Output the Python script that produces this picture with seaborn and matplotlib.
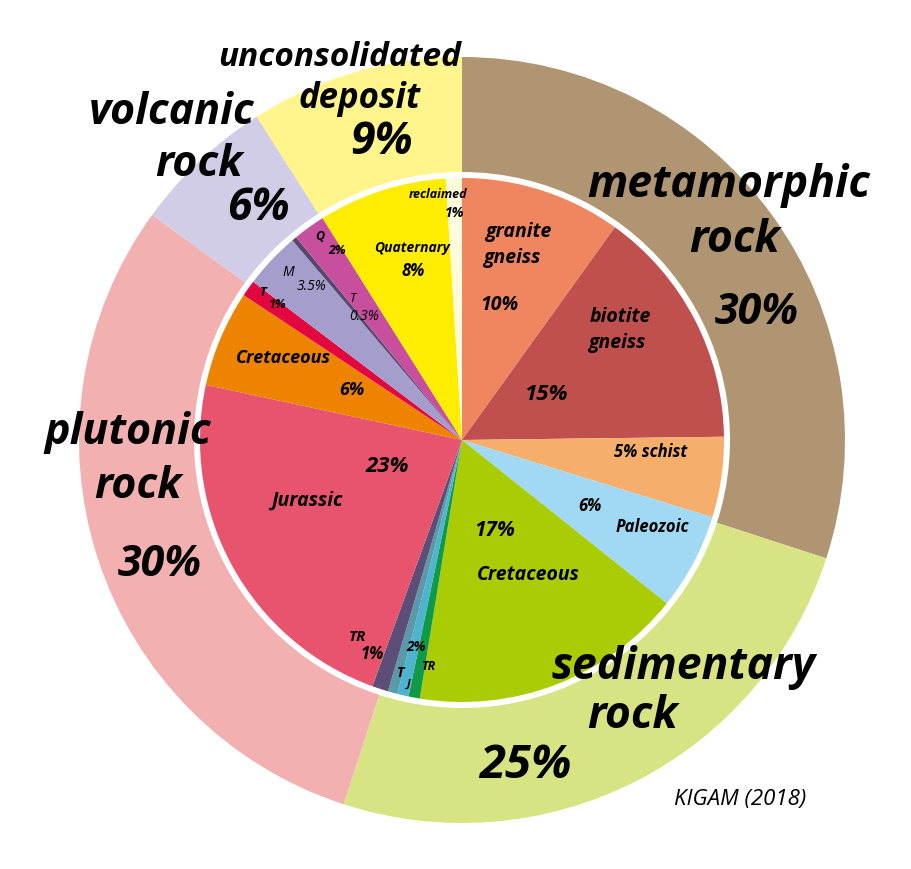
import matplotlib
matplotlib.use("Agg")
import matplotlib.pyplot as plt
import seaborn as sns

# outer ring: rock groups (percent)
outer_labels = ["metamorphic rock", "sedimentary rock", "plutonic rock", "volcanic rock", "unconsolidated deposit"]
outer_values = [30, 25, 30, 6, 9]
outer_colors = ["#B09572", "#D8E483", "#F2B0B0", "#D1CDE6", "#FFF58C"]

# inner pie: units (percent), clockwise from 12 o'clock
inner_labels = ["granite gneiss", "biotite gneiss", "schist", "Paleozoic", "Cretaceous",
                "TR", "J", "T", "TR", "Jurassic", "Cretaceous",
                "T", "M", "T", "Q", "Quaternary", "reclaimed"]
inner_values = [10, 15, 5, 6, 17,
                0.7, 0.7, 0.6, 1, 23, 6,
                1, 3.5, 0.3, 2, 8, 1]
inner_colors = ["#EF865F", "#C0504D", "#F5AE6B", "#A1D8F3", "#AACC05",
                "#109A48", "#4DB3CF", "#5A9AA8", "#5B4F78", "#E8536E", "#EE8300",
                "#E2073F", "#A59DCB", "#54486E", "#C84E9E", "#FFED00", "#FFFBDD"]

W, H = 911, 869
CX, CY = 462, 440          # pie centre in pixels
R_OUT, R_IN = 383, 262

sns.set_theme(style="white")
plt.rcParams["font.family"] = ["Open Sans", "DejaVu Sans"]

fig = plt.figure(figsize=(W / 100, H / 100), dpi=100)
ax = fig.add_axes([0, 0, 1, 1])

ax.pie(outer_values, colors=outer_colors, radius=R_OUT, startangle=90, counterclock=False,
       wedgeprops=dict(width=R_OUT - R_IN - 6, linewidth=0))
ax.pie(inner_values, colors=inner_colors, radius=R_IN, startangle=90, counterclock=False,
       wedgeprops=dict(linewidth=0))

ax.set_xlim(-CX, W - CX)
ax.set_ylim(CY - H, CY)
ax.set_aspect("auto")
ax.axis("off")


def put(x, y, s, size, weight="bold", style="italic", family=None, **kw):
    ax.text(x - CX, CY - y, s, fontsize=size, fontweight=weight, fontstyle=style,
            ha="center", va="center", color="black",
            family=family or ["Open Sans", "DejaVu Sans"], **kw)


# outer labels
put(729, 186, "metamorphic", 32)
put(735, 240, "rock", 32)
put(757, 312, "30%", 31)
put(684, 668, "sedimentary", 32)
put(633, 716, "rock", 32)
put(525, 765, "25%", 34)
put(128, 432, "plutonic", 31)
put(138, 486, "rock", 31)
put(160, 565, "30%", 31)
put(172, 112, "volcanic", 31)
put(199, 165, "rock", 31)
put(258, 208, "6%", 32)
put(340, 58, "unconsolidated", 24)
put(360, 99, "deposit", 25)
put(381, 143, "9%", 32)
put(740, 800, "KIGAM (2018)", 16, weight="normal")

# inner labels
put(518, 232, "granite", 14)
put(512, 258, "gneiss", 14)
put(499, 305, "10%", 14)
put(620, 317, "biotite", 14)
put(617, 343, "gneiss", 14)
put(546, 395, "15%", 16)
put(651, 452, "5% schist", 12)
put(590, 506, "6%", 12)
put(652, 527, "Paleozoic", 12)
put(495, 530, "17%", 15)
put(528, 575, "Cretaceous", 14)
put(416, 647, "2%", 10)
put(401, 673, "T", 10)
put(409, 684, "J", 8)
put(429, 667, "TR", 9)
put(357, 637, "TR", 11)
put(372, 654, "1%", 12)
put(307, 501, "Jurassic", 14)
put(387, 467, "23%", 16)
put(283, 358, "Cretaceous", 13)
put(352, 390, "6%", 13)
put(263, 292, "T", 9)
put(278, 305, "1%", 9)
put(288, 272, "M", 10, weight="normal")
put(312, 287, "3.5%", 10, weight="normal")
put(353, 298, "T", 9, weight="normal")
put(364, 316, "0.3%", 10, weight="normal")
put(320, 237, "Q", 9)
put(337, 250, "2%", 9)
put(412, 248, "Quaternary", 10)
put(413, 271, "8%", 12)
put(438, 194, "reclaimed", 9)
put(455, 213, "1%", 10)

fig.savefig("out.png", dpi=100, facecolor="white")
